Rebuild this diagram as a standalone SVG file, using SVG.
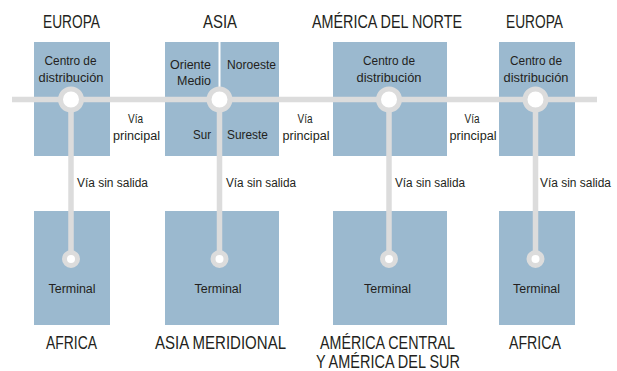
<svg xmlns="http://www.w3.org/2000/svg" width="617" height="371" viewBox="0 0 617 371">
<style>
.box{fill:#9bb9cf}
.road{stroke:#dcdcdc;stroke-width:5.5;fill:none}
.hub{fill:#ffffff;stroke:#dcdcdc;stroke-width:5}
.term{fill:#ffffff;stroke:#dcdcdc;stroke-width:5}
text{font-family:"Liberation Sans",Arial,sans-serif;fill:#231f20}
.h{font-size:18px;text-anchor:middle}
.s{font-size:12.5px}
.m{text-anchor:middle}
.e{text-anchor:end}
</style>
<rect width="617" height="371" fill="#ffffff"/>
<g id="europa1">
<rect class="box" x="34" y="42" width="76" height="114"/>
<text class="h" x="71.5" y="28" textLength="57" lengthAdjust="spacingAndGlyphs">EUROPA</text>
<text class="s m" x="70.5" y="65" textLength="52" lengthAdjust="spacingAndGlyphs">Centro de</text>
<text class="s m" x="71" y="82" textLength="65" lengthAdjust="spacingAndGlyphs">distribución</text>
</g>
<g id="asia">
<rect class="box" x="165" y="42" width="114" height="114"/>
<line x1="219.5" y1="42" x2="219.5" y2="92" stroke="#ffffff" stroke-width="2"/>
<text class="h" x="220" y="28" textLength="34" lengthAdjust="spacingAndGlyphs">ASIA</text>
<text class="s e" x="211" y="69" textLength="41" lengthAdjust="spacingAndGlyphs">Oriente</text>
<text class="s e" x="211" y="85" textLength="34" lengthAdjust="spacingAndGlyphs">Medio</text>
<text class="s" x="227" y="69" textLength="49" lengthAdjust="spacingAndGlyphs">Noroeste</text>
<text class="s e" x="211" y="139" textLength="18" lengthAdjust="spacingAndGlyphs">Sur</text>
<text class="s" x="227" y="139" textLength="41" lengthAdjust="spacingAndGlyphs">Sureste</text>
</g>
<g id="norteamerica">
<rect class="box" x="333" y="42" width="114" height="114"/>
<text class="h" x="387" y="28" textLength="150" lengthAdjust="spacingAndGlyphs">AMÉRICA DEL NORTE</text>
<text class="s m" x="389" y="65" textLength="52" lengthAdjust="spacingAndGlyphs">Centro de</text>
<text class="s m" x="389" y="82" textLength="65" lengthAdjust="spacingAndGlyphs">distribución</text>
</g>
<g id="europa2">
<rect class="box" x="499" y="42" width="76" height="114"/>
<text class="h" x="534.5" y="28" textLength="57" lengthAdjust="spacingAndGlyphs">EUROPA</text>
<text class="s m" x="536" y="65" textLength="52" lengthAdjust="spacingAndGlyphs">Centro de</text>
<text class="s m" x="536" y="82" textLength="65" lengthAdjust="spacingAndGlyphs">distribución</text>
</g>
<g id="africa1">
<rect class="box" x="34" y="211" width="76" height="114"/>
<text class="s m" x="72" y="293" textLength="47" lengthAdjust="spacingAndGlyphs">Terminal</text>
<text class="h" x="71.5" y="349" textLength="51" lengthAdjust="spacingAndGlyphs">AFRICA</text>
</g>
<g id="asiameridional">
<rect class="box" x="165" y="211" width="114" height="114"/>
<text class="s m" x="218" y="293" textLength="47" lengthAdjust="spacingAndGlyphs">Terminal</text>
<text class="h" x="220.5" y="349" textLength="131" lengthAdjust="spacingAndGlyphs">ASIA MERIDIONAL</text>
</g>
<g id="sudamerica">
<rect class="box" x="333" y="211" width="114" height="114"/>
<text class="s m" x="387.5" y="293" textLength="47" lengthAdjust="spacingAndGlyphs">Terminal</text>
<text class="h" x="387.5" y="349" textLength="135" lengthAdjust="spacingAndGlyphs">AMÉRICA CENTRAL</text>
<text class="h" x="388" y="368" textLength="144" lengthAdjust="spacingAndGlyphs">Y AMÉRICA DEL SUR</text>
</g>
<g id="africa2">
<rect class="box" x="499" y="211" width="76" height="114"/>
<text class="s m" x="536.5" y="293" textLength="47" lengthAdjust="spacingAndGlyphs">Terminal</text>
<text class="h" x="535" y="349" textLength="52" lengthAdjust="spacingAndGlyphs">AFRICA</text>
</g>
<g id="connectors">
<line class="road" x1="12" y1="99.5" x2="597" y2="99.5"/>
<line class="road" x1="71" y1="99.5" x2="71" y2="259"/>
<line class="road" x1="219.5" y1="99.5" x2="219.5" y2="259"/>
<line class="road" x1="389" y1="99.5" x2="389" y2="259"/>
<line class="road" x1="535.5" y1="99.5" x2="535.5" y2="259"/>
<circle class="hub" cx="71" cy="99.5" r="10.5"/>
<circle class="hub" cx="219.5" cy="99.5" r="10.5"/>
<circle class="hub" cx="389" cy="99.5" r="10.5"/>
<circle class="hub" cx="535.5" cy="99.5" r="10.5"/>
<circle class="term" cx="71" cy="259" r="6.5"/>
<circle class="term" cx="219.5" cy="259" r="6.5"/>
<circle class="term" cx="389" cy="259" r="6.5"/>
<circle class="term" cx="535.5" cy="259" r="6.5"/>
<text class="s m" x="135.5" y="123" textLength="15" lengthAdjust="spacingAndGlyphs">Vía</text>
<text class="s m" x="136.5" y="140" textLength="47" lengthAdjust="spacingAndGlyphs">principal</text>
<text class="s m" x="305" y="123" textLength="15" lengthAdjust="spacingAndGlyphs">Vía</text>
<text class="s m" x="306" y="140" textLength="47" lengthAdjust="spacingAndGlyphs">principal</text>
<text class="s m" x="472" y="123" textLength="15" lengthAdjust="spacingAndGlyphs">Vía</text>
<text class="s m" x="473" y="140" textLength="47" lengthAdjust="spacingAndGlyphs">principal</text>
<text class="s" x="77" y="187" textLength="71" lengthAdjust="spacingAndGlyphs">Vía sin salida</text>
<text class="s" x="226" y="187" textLength="70" lengthAdjust="spacingAndGlyphs">Vía sin salida</text>
<text class="s" x="395" y="187" textLength="70" lengthAdjust="spacingAndGlyphs">Vía sin salida</text>
<text class="s" x="540" y="187" textLength="71" lengthAdjust="spacingAndGlyphs">Vía sin salida</text>
</g>
</svg>
